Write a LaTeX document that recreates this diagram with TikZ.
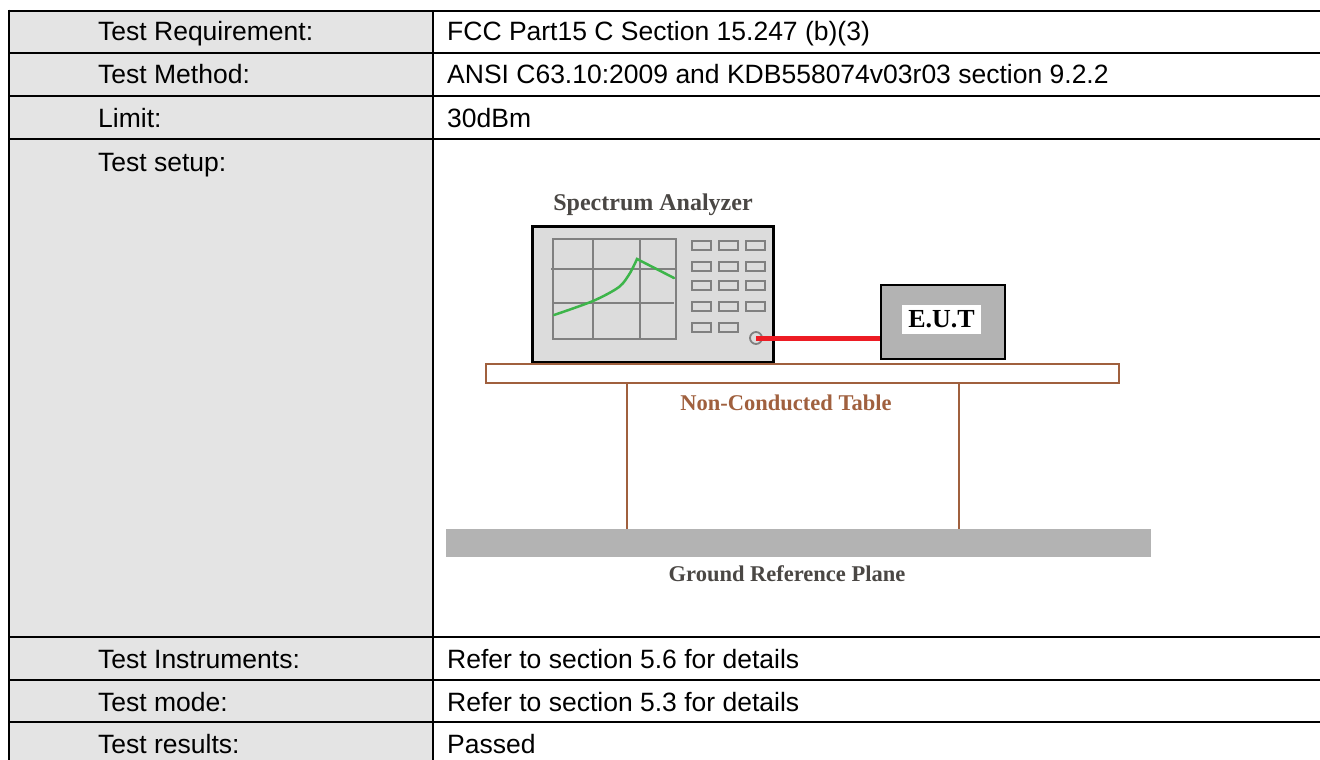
\documentclass[tikz,border=0pt]{standalone}
\usepackage{fontspec}
\setmainfont{Liberation Sans}
\newfontfamily\labelfont{Liberation Serif}
\usetikzlibrary{calc,positioning}
\definecolor{cellgray}{HTML}{E4E4E4}
\definecolor{panelgray}{HTML}{DCDCDC}
\definecolor{gridgray}{HTML}{808080}
\definecolor{tracegreen}{HTML}{3DB54A}
\definecolor{cablered}{HTML}{ED1C24}
\definecolor{eutgray}{HTML}{B3B3B3}
\definecolor{tablebrown}{HTML}{A0603E}
\definecolor{labelgray}{HTML}{4A4744}
\tikzset{
  rule/.style={line width=2.8pt},
  cell/.style={anchor=base west, inner sep=0pt, font=\fontsize{26.5}{30}\selectfont},
  scenelabel/.style={inner sep=0pt, font=\labelfont\bfseries\fontsize{22.5}{26}\selectfont},
  screenline/.style={draw=gridgray, line width=2pt},
  trace/.style={draw=tracegreen, line width=2.5pt, line cap=round},
  button/.style={draw=gridgray, line width=2pt, fill=panelgray},
  cable/.style={draw=cablered, line width=5pt},
  leg/.style={draw=tablebrown, line width=2.5pt}
}

\begin{document}
\begin{tikzpicture}[x=1pt, y=-1pt]
  \useasboundingbox (0,0) rectangle (1320,760);
  \fill[white] (0,0) rectangle (1320,760);

  % table frame
  \fill[cellgray] (9,11) rectangle (433,760);
  \draw[rule] (9,11) -- (1320,11);
  \draw[rule] (9,53) -- (1320,53);
  \draw[rule] (9,96) -- (1320,96);
  \draw[rule] (9,139) -- (1320,139);
  \draw[rule] (9,637) -- (1320,637);
  \draw[rule] (9,680) -- (1320,680);
  \draw[rule] (9,722) -- (1320,722);
  \draw[rule] (9,9.6) -- (9,760);
  \draw[rule] (433,11) -- (433,760);

  \node[cell] (req) at (98,41) {Test Requirement:};
  \node[cell] (reqval) at (447,41) {FCC Part15 C Section 15.247 (b)(3)};
  \node[cell] (method) at (98,84) {Test Method:};
  \node[cell] (methodval) at (447,84) {ANSI C63.10:2009 and KDB558074v03r03 section 9.2.2};
  \node[cell] (limit) at (98,127) {Limit:};
  \node[cell] (limitval) at (447,127) {30dBm};
  \node[cell] (setup) at (98,171) {Test setup:};
  \node[cell] (instr) at (98,668) {Test Instruments:};
  \node[cell] (instrval) at (447,668) {Refer to section 5.6 for details};
  \node[cell] (mode) at (98,711) {Test mode:};
  \node[cell] (modeval) at (447,711) {Refer to section 5.3 for details};
  \node[cell] (result) at (98,753) {Test results:};
  \node[cell] (resultval) at (447,753) {Passed};

  % test setup scene
  \node[draw, line width=3pt, fill=panelgray, inner sep=0pt, minimum width=241, minimum height=136, anchor=north west] (sa) at (530.5,224.5) {};
  \node[scenelabel, text=labelgray, font=\labelfont\bfseries\fontsize{24}{28}\selectfont] (salabel) at (653,205) {Spectrum Analyzer};

  \draw[screenline] (553,239) rectangle (676,339);
  \draw[screenline] (593,239) -- (593,339);
  \draw[screenline] (640,239) -- (640,339);
  \draw[screenline] (551,269) -- (676,269);
  \draw[screenline] (553,303) -- (674,303);
  \draw[trace] plot[smooth] coordinates {(554,315) (593,301) (619,287) (630,273) (637,259)} -- (674,278);

  \foreach \y in {241,262,281,302}
    \foreach \x in {692,719,746}
      \draw[button] (\x,\y) rectangle ++(19,9);
  \foreach \x in {692,719}
    \draw[button] (\x,323) rectangle ++(19,9);
  \node[circle, draw=gridgray, line width=1.8pt, minimum size=12pt, inner sep=0pt] (port) at (756,338) {};

  \node[draw, line width=2pt, fill=eutgray, inner sep=0pt, minimum width=124, minimum height=74, anchor=north west] (eut) at (880,284) {};
  \node[fill=white, inner sep=0pt, minimum width=79, minimum height=29, font=\labelfont\bfseries\fontsize{26}{30}\selectfont] (eutlabel) at (941.5,319.5) {E.U.T};
  \draw[cable] (port.center) -- (eut.west |- port.center);

  \node[draw=tablebrown, line width=2pt, fill=white, inner sep=0pt, minimum width=633, minimum height=19, anchor=north west] (desk) at (485,363) {};
  \node[fill=eutgray, inner sep=0pt, minimum width=705, minimum height=28, anchor=north west] (plane) at (446,529) {};
  \draw[leg] ([xshift=142pt]desk.south west) -- ([xshift=142pt]desk.south west |- plane.north);
  \draw[leg] ([xshift=474pt]desk.south west) -- ([xshift=474pt]desk.south west |- plane.north);
  \node[scenelabel, text=tablebrown] (desklabel) at (786,403) {Non-Conducted Table};
  \node[scenelabel, text=labelgray] (planelabel) at (787,574) {Ground Reference Plane};
\end{tikzpicture}
\end{document}
